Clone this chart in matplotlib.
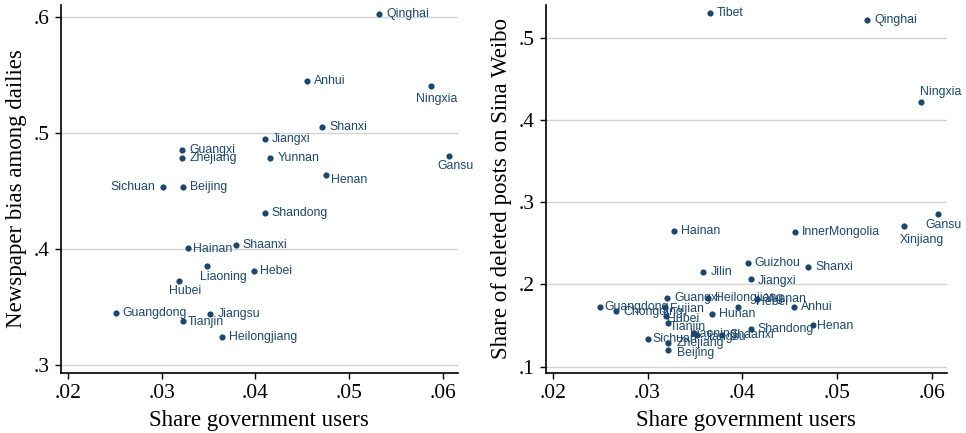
import matplotlib as mpl
mpl.use('Agg')
import matplotlib.pyplot as plt

# left panel: newspaper bias vs share of government users
prov_l = ["Qinghai", "Anhui", "Ningxia", "Shanxi", "Jiangxi", "Gansu", "Guangxi",
          "Zhejiang", "Yunnan", "Henan", "Sichuan", "Beijing", "Shandong", "Hainan",
          "Shaanxi", "Liaoning", "Hebei", "Hubei", "Guangdong", "Jiangsu", "Tianjin",
          "Heilongjiang"]
gov_l = [0.0532, 0.0455, 0.0587, 0.0471, 0.0410, 0.0607, 0.0322, 0.0322, 0.0416,
         0.0475, 0.0301, 0.0323, 0.0410, 0.0328, 0.0379, 0.0348, 0.0398, 0.0319,
         0.0251, 0.0352, 0.0323, 0.0364]
bias = [0.602, 0.545, 0.540, 0.505, 0.495, 0.480, 0.485, 0.478, 0.478, 0.464,
        0.453, 0.453, 0.431, 0.401, 0.403, 0.385, 0.381, 0.372, 0.345, 0.344,
        0.338, 0.324]

# right panel: share of deleted posts vs share of government users
prov_r = ["Tibet", "Qinghai", "Ningxia", "Gansu", "Xinjiang", "Hainan", "InnerMongolia",
          "Guizhou", "Shanxi", "Jilin", "Jiangxi", "Guangxi", "Heilongjiang", "Yunnan",
          "Hebei", "Anhui", "Guangdong", "Chongqing", "Fujian", "Hubei", "Tianjin",
          "Hunan", "Shandong", "Henan", "Liaoning", "Jiangsu", "Shaanxi", "Sichuan",
          "Zhejiang", "Beijing"]
gov_r = [0.0366, 0.0532, 0.0589, 0.0607, 0.0571, 0.0328, 0.0456, 0.0406, 0.0470,
         0.0359, 0.0409, 0.0321, 0.0364, 0.0416, 0.0396, 0.0455, 0.0250, 0.0267,
         0.0318, 0.0319, 0.0322, 0.0368, 0.0409, 0.0475, 0.0349, 0.0352, 0.0379,
         0.0301, 0.0322, 0.0322]
deleted = [0.530, 0.522, 0.422, 0.286, 0.271, 0.265, 0.264, 0.226, 0.221, 0.215,
           0.207, 0.184, 0.184, 0.182, 0.173, 0.173, 0.173, 0.168, 0.172, 0.161,
           0.153, 0.164, 0.146, 0.151, 0.141, 0.139, 0.139, 0.134, 0.129, 0.120]

xticks = [0.02, 0.03, 0.04, 0.05, 0.06]
xtick_lab = [".02", ".03", ".04", ".05", ".06"]

navy = '#1a476f'
serif = 'Liberation Serif'

# label offsets (points) that differ from default "right of marker"
pos_l = {"Ningxia": (4, -9, 'center'), "Gansu": (4, -7, 'center'),
         "Henan": (3.5, -4, 'left'), "Sichuan": (-5.5, 0, 'right'),
         "Liaoning": (12, -8, 'center'), "Hubei": (4, -7, 'center'),
         "Hainan": (3.5, -1, 'left'), "Tianjin": (3, -1, 'left')}
pos_r = {"Ningxia": (14, 7, 'center'), "Gansu": (4, -8, 'center'),
         "Xinjiang": (13, -10, 'center'), "Hebei": (13, 3, 'left'),
         "Jiangxi": (5, -2, 'left'), "Guangdong": (3, 0, 'left'),
         "Chongqing": (5, -1, 'left'), "Hubei": (1, -2, 'left'),
         "Tianjin": (1, -3, 'left'), "Fujian": (4, -1, 'left'),
         "Zhejiang": (6, 0, 'left'), "Beijing": (6, -2, 'left'),
         "Sichuan": (3, 0, 'left'), "Liaoning": (-3, -1, 'left'),
         "Jiangsu": (5, -2, 'left'), "Henan": (3, -1, 'left')}


def panel(ax, x, y, names, pos, yticks, ylab, ylim):
    ax.scatter(x, y, s=20, color=navy, zorder=3, linewidths=0)
    for xi, yi, n in zip(x, y, names):
        dx, dy, ha = pos.get(n, (5, 0, 'left'))
        ax.annotate(n, (xi, yi), xytext=(dx, dy), textcoords='offset points',
                    ha=ha, va='center', fontsize=8.8, color=navy,
                    family='Liberation Sans', zorder=4)
    ax.set_xlim(0.01925, 0.0616)
    ax.set_ylim(*ylim)
    ax.set_xticks(xticks)
    ax.set_xticklabels(xtick_lab)
    ax.set_yticks(yticks)
    ax.set_yticklabels(['.' + str(int(round(t * 10))) for t in yticks])
    ax.yaxis.grid(True, color='#d3d3d3', linewidth=1)
    ax.set_axisbelow(True)
    for s in ['top', 'right']:
        ax.spines[s].set_visible(False)
    for s in ['left', 'bottom']:
        ax.spines[s].set_linewidth(1.2)
    ax.tick_params(direction='out', length=4, width=1, labelsize=15.5, pad=4)
    for lab in ax.get_xticklabels() + ax.get_yticklabels():
        lab.set_family(serif)
    ax.set_xlabel("Share government users", family=serif, fontsize=16.5, labelpad=5)
    ax.set_ylabel(ylab, family=serif, fontsize=16.5, labelpad=5)


fig = plt.figure(figsize=(9.66, 4.33), dpi=100)
ax1 = fig.add_axes([0.063, 0.139, 0.411, 0.85])
ax2 = fig.add_axes([0.565, 0.139, 0.415, 0.85])

panel(ax1, gov_l, bias, prov_l, pos_l, [0.3, 0.4, 0.5, 0.6],
      "Newspaper bias among dailies", (0.2931, 0.6103))
panel(ax2, gov_r, deleted, prov_r, pos_r, [0.1, 0.2, 0.3, 0.4, 0.5],
      "Share of deleted posts on Sina Weibo", (0.0925, 0.540))

fig.savefig('out.png', dpi=100)
